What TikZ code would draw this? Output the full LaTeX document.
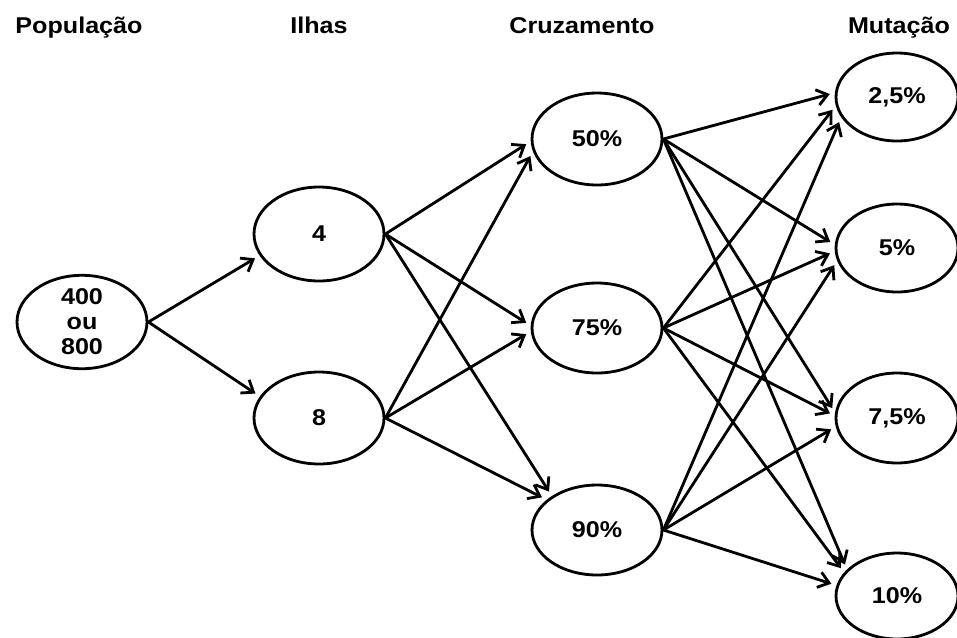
\documentclass[tikz,border=0pt]{standalone}
\usepackage{fontspec}
\setmainfont{Liberation Sans}[FakeStretch=1.1]
\usetikzlibrary{shapes.geometric,arrows.meta}
% soft grey rim just inside each ellipse
\pgfdeclareradialshading{rim}{\pgfpoint{0bp}{0bp}}{color(0bp)=(white); color(40bp)=(white); color(50bp)=(black!22)}
\begin{document}
\begin{tikzpicture}[x=0.02cm,y=-0.02cm,
  state/.style={ellipse, draw, line width=1.6pt, minimum width=2.6cm,
    minimum height=1.8cm, inner sep=0pt, shading=rim, align=center,
    font=\fontsize{13}{14.2}\selectfont\bfseries},
  head/.style={anchor=base, font=\fontsize{13}{15}\selectfont\bfseries},
  link/.style={-{Straight Barb[length=6pt,width=9pt]}, line width=1.6pt,
    shorten >=3pt}]
\useasboundingbox (0,0) rectangle (957,637);

% column headings
\node[head] (hpop) at (79,33) {População};
\node[head] (hilh) at (319,33) {Ilhas};
\node[head] (hcru) at (582,33) {Cruzamento};
\node[head] (hmut) at (899,33) {Mutação};

% population
\node[state, minimum height=1.76cm] (pop) at (82,322) {400\\ou\\800};

% islands
\node[state, minimum height=1.88cm] (i4) at (319,234) {4};
\node[state, minimum height=1.84cm] (i8) at (319,418) {8};

% crossover rates
\node[state, minimum height=1.84cm] (c50) at (597,139) {50\%};
\node[state] (c75) at (597,328) {75\%};
\node[state] (c90) at (597,530) {90\%};

% mutation rates
\node[state, minimum width=2.44cm, minimum height=1.76cm] (m25) at (897,97) {2,5\%};
\node[state, minimum width=2.44cm, minimum height=1.76cm] (m5) at (897,248) {5\%};
\node[state, minimum width=2.44cm, minimum height=1.8cm] (m75) at (897,418) {7,5\%};
\node[state, minimum width=2.44cm, minimum height=1.72cm] (m10) at (897,596) {10\%};

% population -> islands
\draw[link] (pop.east) -- (i4.200);
\draw[link] (pop.east) -- (i8.160);

% islands -> crossover
\draw[link] (i4.east) -- (c50.182);
\draw[link] (i4.east) -- (c75.178);
\draw[link] (i4.east) -- (c90.143);
\draw[link] (i8.east) -- (c50.191);
\draw[link] (i8.east) -- (c75.183);
\draw[link] (i8.east) -- (c90.149);

% crossover -> mutation
\draw[link] (c50.east) -- (m25.176);
\draw[link] (c50.east) -- (m5.177);
\draw[link] (c50.east) -- (m75.175);
\draw[link] (c50.east) -- (m10.152);
\draw[link] (c75.east) -- (m25.188);
\draw[link] (c75.east) -- (m5.183);
\draw[link] (c75.east) -- (m75.178);
\draw[link] (c75.east) -- (m10.156);
\draw[link] (c90.east) -- (m25.200);
\draw[link] (c90.east) -- (m5.192);
\draw[link] (c90.east) -- (m75.188);
\draw[link] (c90.east) -- (m10.170);
\end{tikzpicture}
\end{document}
